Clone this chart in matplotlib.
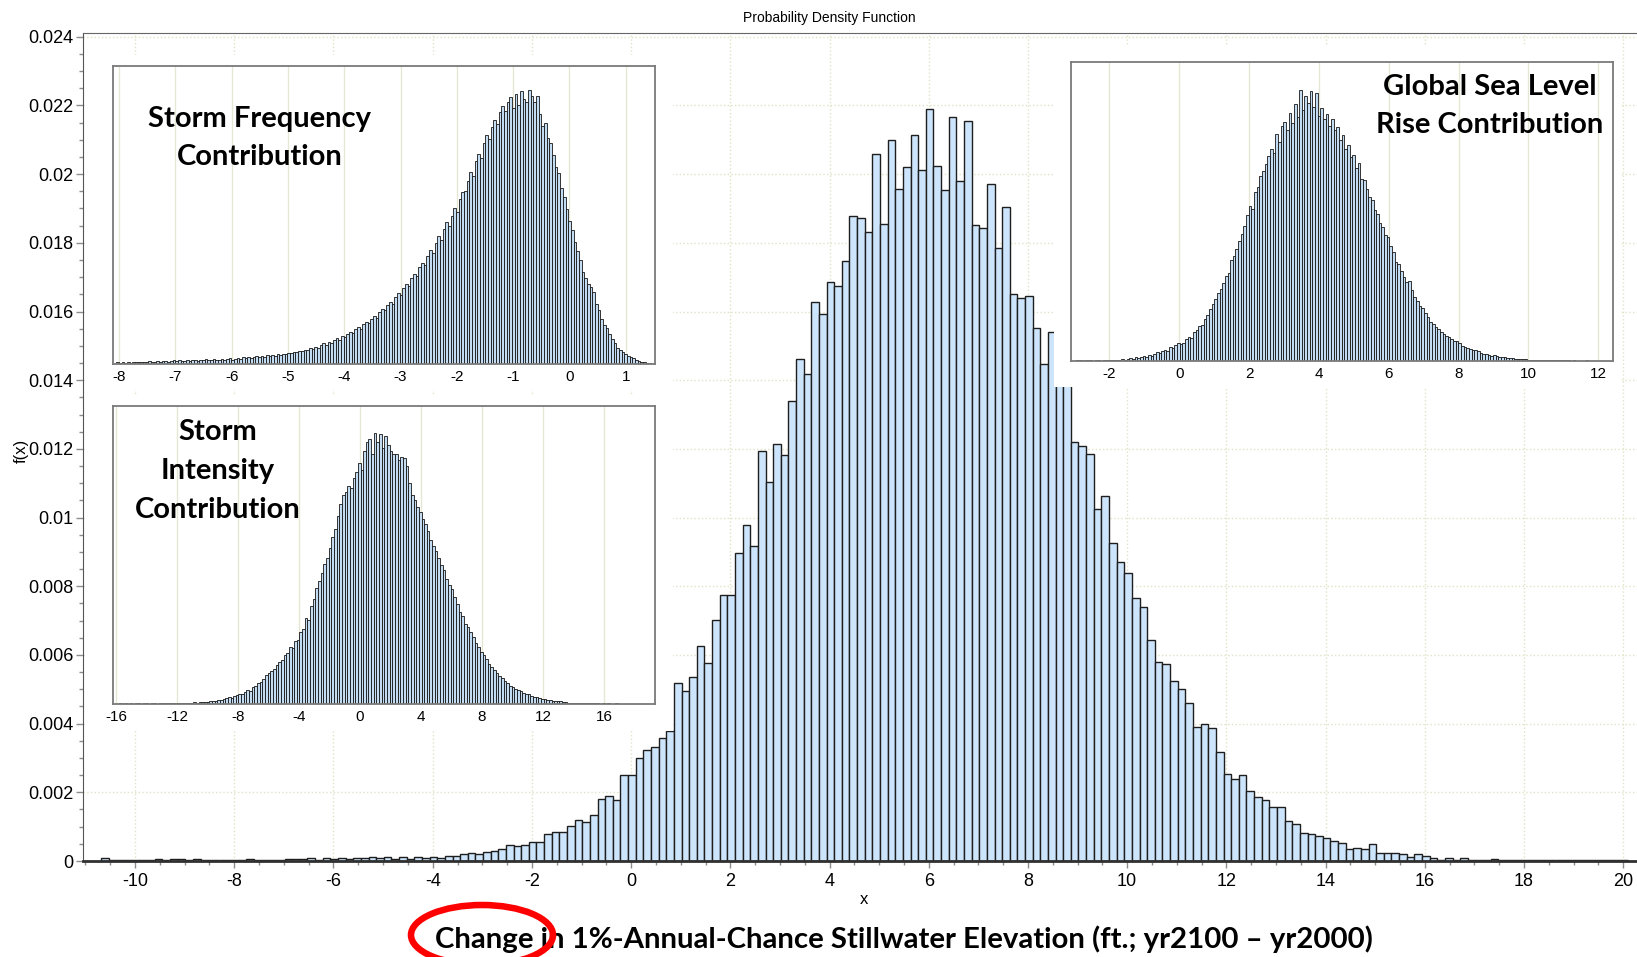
import numpy as np
import matplotlib
matplotlib.use("Agg")
import matplotlib.pyplot as plt
from matplotlib.patches import Rectangle, Ellipse
from matplotlib.ticker import MultipleLocator, FuncFormatter

plt.rcParams['font.family'] = ['Liberation Sans', 'DejaVu Sans']
plt.rcParams['axes.unicode_minus'] = False

W, H = 1637, 957

# main histogram: 200 equal bins between these edges, density in units of 1e-3
main_lo, main_hi = -10.68, 20.10
main_density_e3 = [
    0.08, 0.03, 0.03, 0.03, 0.03, 0.03, 0.03, 0.07, 0.03, 0.07,
    0.07, 0.03, 0.07, 0.03, 0.03, 0.03, 0.03, 0.03, 0.03, 0.07,
    0.03, 0.03, 0.03, 0.03, 0.06, 0.06, 0.07, 0.10, 0.04, 0.10,
    0.07, 0.10, 0.07, 0.10, 0.10, 0.13, 0.10, 0.13, 0.07, 0.13,
    0.07, 0.13, 0.08, 0.13, 0.08, 0.15, 0.15, 0.20, 0.22, 0.20,
    0.25, 0.28, 0.35, 0.47, 0.43, 0.47, 0.54, 0.54, 0.80, 0.84,
    0.84, 1.02, 1.19, 1.13, 1.33, 1.80, 1.88, 1.78, 2.50, 2.50,
    2.99, 3.22, 3.32, 3.57, 3.78, 5.18, 4.96, 5.36, 6.27, 5.77,
    7.02, 7.76, 7.76, 8.98, 9.79, 9.18, 11.95, 11.03, 12.15, 11.82,
    13.39, 14.62, 14.18, 16.29, 15.94, 16.85, 16.75, 17.48, 18.79, 18.71,
    18.32, 20.58, 18.55, 20.99, 19.56, 20.21, 21.13, 20.13, 21.91, 20.24,
    19.53, 21.65, 19.79, 21.56, 18.52, 18.42, 19.70, 17.86, 19.05, 16.50,
    16.40, 16.46, 15.52, 14.47, 15.41, 14.80, 14.20, 12.21, 12.08, 11.85,
    10.26, 10.64, 9.27, 8.71, 8.38, 7.67, 7.40, 6.43, 5.80, 5.74,
    5.25, 5.02, 4.59, 3.90, 3.98, 3.87, 3.16, 2.54, 2.40, 2.50,
    2.05, 1.87, 1.79, 1.56, 1.58, 1.16, 1.07, 0.81, 0.78, 0.72,
    0.68, 0.58, 0.51, 0.35, 0.39, 0.35, 0.49, 0.22, 0.22, 0.22,
    0.20, 0.12, 0.20, 0.15, 0.08, 0.04, 0.08, 0.03, 0.08, 0.03,
    0.03, 0.03, 0.05, 0.03, 0.02, 0.03, 0.03, 0.02, 0.02, 0.03,
    0.02, 0.03, 0.02, 0.02, 0.02, 0.03, 0.02, 0.02, 0.02, 0.03,
]

# insets: bar heights as percent of the inset panel height
freq_lo, freq_hi = -8.05, 1.45
freq_pct = [
    0.6, 0.4, 0.6, 0.5, 0.7, 0.5, 0.6, 0.8, 0.6, 0.7,
    0.8, 0.6, 0.9, 0.7, 0.8, 1.0, 0.8, 0.9, 1.1, 0.8,
    1.0, 1.2, 0.9, 1.3, 1.0, 1.1, 1.4, 1.0, 1.2, 1.5,
    1.1, 1.3, 1.2, 1.6, 1.2, 1.4, 1.7, 1.3, 1.5, 1.8,
    1.4, 1.6, 2.0, 1.5, 1.8, 2.1, 1.7, 2.2, 1.9, 2.4,
    2.0, 2.3, 2.6, 2.2, 2.7, 2.5, 2.9, 2.6, 3.1, 2.8,
    3.2, 3.0, 3.5, 3.3, 3.8, 3.6, 4.1, 3.9, 4.5, 4.2,
    4.8, 4.6, 5.3, 5.0, 5.8, 5.5, 6.3, 6.9, 6.5, 7.4,
    7.1, 8.0, 8.6, 8.2, 9.3, 9.0, 10.1, 10.8, 10.4, 11.7,
    12.3, 11.9, 13.4, 14.0, 13.6, 15.2, 16.1, 15.6, 17.4, 18.5,
    18.0, 19.8, 20.9, 20.3, 22.6, 23.9, 23.2, 25.4, 26.8, 26.1,
    28.7, 30.2, 29.5, 32.4, 34.0, 33.1, 36.3, 38.2, 37.4, 40.6,
    42.8, 41.7, 45.2, 47.6, 46.3, 49.8, 52.5, 51.0, 55.4, 57.8,
    58.0, 61.5, 64.5, 63.0, 68.0, 70.5, 69.0, 74.0, 77.0, 75.5,
    79.5, 82.0, 80.5, 84.5, 86.5, 85.0, 88.0, 89.5, 86.0, 90.5,
    87.0, 91.5, 89.0, 88.0, 92.0, 90.0, 88.0, 90.0, 84.0, 80.0,
    81.0, 76.0, 74.0, 70.0, 66.0, 64.0, 59.0, 56.0, 52.0, 48.0,
    45.0, 41.0, 38.0, 35.0, 31.0, 29.0, 27.0, 26.0, 24.0, 20.0,
    18.0, 15.0, 13.0, 12.0, 10.0, 8.5, 7.0, 5.5, 4.6, 4.0,
    3.4, 2.8, 2.2, 1.9, 1.4, 1.1, 0.8, 0.6, 0.4, 0.3,
]

inten_lo, inten_hi = -15.8, 19.0
inten_pct = [
    0.2, 0.1, 0.2, 0.1, 0.2, 0.1, 0.2, 0.2, 0.1, 0.2,
    0.2, 0.1, 0.2, 0.2, 0.1, 0.2, 0.2, 0.3, 0.2, 0.2,
    0.3, 0.2, 0.3, 0.4, 0.3, 0.5, 0.4, 0.5, 0.6, 0.5,
    0.6, 0.7, 0.8, 0.8, 1.0, 1.1, 1.0, 1.4, 1.5, 1.7,
    1.9, 2.3, 2.1, 2.7, 3.0, 3.4, 3.2, 4.1, 4.6, 4.4,
    5.8, 6.0, 7.1, 7.5, 8.4, 9.6, 10.4, 11.0, 11.8, 13.0,
    14.2, 14.6, 16.5, 17.0, 19.0, 18.8, 21.0, 21.5, 24.0, 25.2,
    29.0, 28.2, 33.0, 35.1, 39.0, 41.2, 44.0, 47.0, 49.0, 52.3,
    56.0, 58.6, 63.0, 67.0, 70.0, 71.0, 73.0, 72.5, 76.0, 78.0,
    81.0, 78.5, 85.0, 88.0, 89.0, 84.0, 91.0, 88.0, 90.5, 86.0,
    90.0, 87.0, 85.0, 84.0, 84.0, 82.0, 83.0, 82.5, 80.0, 74.0,
    70.0, 68.5, 66.0, 64.5, 62.0, 60.5, 58.0, 55.0, 53.0, 51.5,
    49.0, 46.5, 45.0, 42.0, 40.0, 38.5, 36.0, 33.5, 31.0, 29.5,
    27.0, 26.0, 24.0, 22.5, 20.5, 19.0, 17.5, 16.5, 15.0, 13.5,
    12.5, 11.5, 10.3, 9.5, 8.6, 7.6, 6.9, 6.2, 5.8, 5.1,
    4.6, 4.2, 3.8, 3.5, 3.4, 2.8, 2.5, 2.3, 1.9, 1.8,
    1.7, 1.4, 1.2, 1.1, 1.0, 0.9, 0.9, 0.7, 0.6, 0.5,
    0.4, 0.4, 0.3, 0.3, 0.3, 0.2, 0.3, 0.2, 0.2, 0.2,
    0.2, 0.1, 0.2, 0.1, 0.2, 0.1, 0.1, 0.2, 0.1, 0.1,
    0.1, 0.1, 0.1, 0.1, 0.1, 0.1, 0.1, 0.1, 0.1, 0.1,
]

slr_lo, slr_hi = -2.95, 12.25
slr_pct = [
    0.3, 0.2, 0.1, 0.2, 0.3, 0.2, 0.1, 0.2, 0.2, 0.1,
    0.2, 0.3, 0.2, 0.3, 0.4, 0.5, 0.4, 0.6, 0.5, 0.7,
    0.9, 0.8, 1.2, 1.1, 1.4, 1.7, 1.5, 2.0, 1.8, 2.2,
    2.9, 2.6, 3.4, 3.8, 3.5, 4.6, 4.3, 5.4, 6.1, 5.6,
    6.0, 7.4, 8.1, 7.6, 9.8, 10.5, 11.8, 12.2, 14.0, 15.3,
    17.5, 19.0, 20.6, 22.9, 24.1, 26.0, 28.4, 29.5, 33.8, 35.0,
    37.6, 40.2, 42.5, 45.0, 48.9, 52.0, 51.0, 56.6, 58.1, 62.0,
    63.5, 66.0, 68.4, 71.0, 69.5, 76.0, 73.2, 78.5, 80.0, 77.3,
    83.0, 79.6, 86.0, 81.5, 90.7, 84.0, 88.5, 86.2, 90.4, 85.0,
    89.5, 82.0, 84.5, 80.8, 82.5, 78.6, 81.0, 77.4, 78.2, 74.0,
    75.5, 71.0, 72.4, 68.3, 69.0, 64.5, 66.2, 61.0, 60.4, 57.6,
    55.0, 53.8, 50.6, 49.2, 46.0, 44.8, 42.0, 41.6, 38.5, 36.4,
    33.0, 32.6, 30.0, 28.0, 26.5, 26.8, 23.9, 21.3, 20.0, 18.4,
    17.6, 16.0, 14.8, 13.0, 12.4, 11.5, 10.8, 9.6, 9.0, 8.5,
    8.0, 7.2, 6.8, 6.6, 5.9, 5.0, 4.8, 4.5, 4.0, 3.6,
    3.8, 3.2, 2.7, 2.5, 2.4, 2.0, 1.8, 2.0, 1.6, 1.4,
    1.2, 1.3, 1.0, 0.9, 1.0, 0.8, 0.7, 0.8, 0.6, 0.6,
    0.5, 0.5, 0.4, 0.5, 0.3, 0.4, 0.3, 0.3, 0.4, 0.2,
    0.3, 0.2, 0.2, 0.3, 0.2, 0.2, 0.1, 0.2, 0.1, 0.1,
    0.1, 0.1, 0.2, 0.1, 0.1, 0.1, 0.1, 0.1, 0.1, 0.1,
]


def box(x0, y0, x1, y1):
    # pixel box (top-left origin) -> figure fraction rect
    return [x0 / W, 1 - y1 / H, (x1 - x0) / W, (y1 - y0) / H]


def white_patch(x0, y0, x1, y1):
    r = box(x0, y0, x1, y1)
    fig.add_artist(Rectangle((r[0], r[1]), r[2], r[3], transform=fig.transFigure,
                             facecolor='white', edgecolor='none', zorder=2))


fig = plt.figure(figsize=(W / 100, H / 100), dpi=100)

# main panel
ax = fig.add_axes(box(83, 33, 1645, 861), zorder=1)
edges = np.linspace(main_lo, main_hi, len(main_density_e3) + 1)
ax.bar(edges[:-1], np.array(main_density_e3) * 1e-3, width=np.diff(edges), align='edge',
       color='#cde5fc', edgecolor='#1e1e1e', linewidth=1.0)
ax.set_xlim(-11.05, 20.44)
ax.set_ylim(0, 0.02411)
ax.set_xticks(np.arange(-10, 21, 2))
ax.xaxis.set_minor_locator(MultipleLocator(0.5))
ax.set_yticks(np.arange(0, 0.0241, 0.002))
ax.yaxis.set_minor_locator(MultipleLocator(0.0005))
ax.yaxis.set_major_formatter(FuncFormatter(lambda v, p: f"{v:g}"))
ax.tick_params(which='major', direction='out', length=5, width=1, color='#8c8c8c',
               labelsize=13, pad=2)
ax.tick_params(which='minor', direction='out', length=3, width=1, color='#8c8c8c')
ax.tick_params(axis='x', which='major', pad=4)
ax.set_axisbelow(True)
ax.grid(True, which='major', color='#e2e2c8', linestyle=':', linewidth=1.0)
ax.spines['right'].set_visible(False)
ax.spines['left'].set_color('#555555')
ax.spines['top'].set_color('#666666')
ax.spines['bottom'].set_color('#303030')
ax.spines['bottom'].set_linewidth(2.0)

# white areas behind the insets
white_patch(85, 55, 673, 390)
white_patch(85, 396, 673, 731)
white_patch(1054, 45, 1621, 387)


def inset(rect, lo, hi, pct, xlim, ticks, label, lx, ly):
    a = fig.add_axes(box(*rect), zorder=3)
    e = np.linspace(lo, hi, len(pct) + 1)
    a.bar(e[:-1], pct, width=np.diff(e), align='edge', color='#c4dcf2',
          edgecolor='#151515', linewidth=0.6)
    a.set_xlim(*xlim)
    a.set_ylim(0, 100)
    a.set_xticks(ticks)
    a.set_yticks([])
    a.tick_params(axis='x', length=0, labelsize=11, pad=4)
    a.set_axisbelow(True)
    a.grid(True, axis='x', color='#e6e6d4', linewidth=1.0)
    for s in a.spines.values():
        s.set_color('#7a7a7a')
        s.set_linewidth(1.3)
    fig.text(lx / W, 1 - ly / H, label, ha='center', va='center', family=['Lato', 'DejaVu Sans'],
             fontweight='bold', fontsize=21, linespacing=1.6, zorder=5)
    return a


inset((113, 66, 655, 364), freq_lo, freq_hi, freq_pct, (-8.11, 1.52), range(-8, 2),
      "Storm Frequency\nContribution", 260, 138)
inset((113, 406, 655, 704), inten_lo, inten_hi, inten_pct, (-16.2, 19.35), range(-16, 17, 4),
      "Storm\nIntensity\nContribution", 218, 471)
inset((1071, 62, 1613, 361), slr_lo, slr_hi, slr_pct, (-3.1, 12.42), range(-2, 13, 2),
      "Global Sea Level\nRise Contribution", 1490, 106)

fig.text(829 / W, 1 - 18 / H, "Probability Density Function", ha='center', va='center', fontsize=10)
fig.text(21 / W, 1 - 451 / H, "f(x)", ha='center', va='center', rotation=90, fontsize=12)
fig.text(864 / W, 1 - 900 / H, "x", ha='center', va='center', fontsize=12)
fig.text(904 / W, 1 - 939 / H, "Change in 1%-Annual-Chance Stillwater Elevation (ft.; yr2100 \u2013 yr2000)",
         ha='center', va='center', family=['Lato', 'DejaVu Sans'], fontweight='bold', fontsize=21.2)

fig.add_artist(Ellipse((482 / W, 1 - 935 / H), 142 / W, 60 / H, transform=fig.transFigure,
                       fill=False, edgecolor='#ff0000', linewidth=4.7, zorder=10))

fig.savefig("out.png", dpi=100)
